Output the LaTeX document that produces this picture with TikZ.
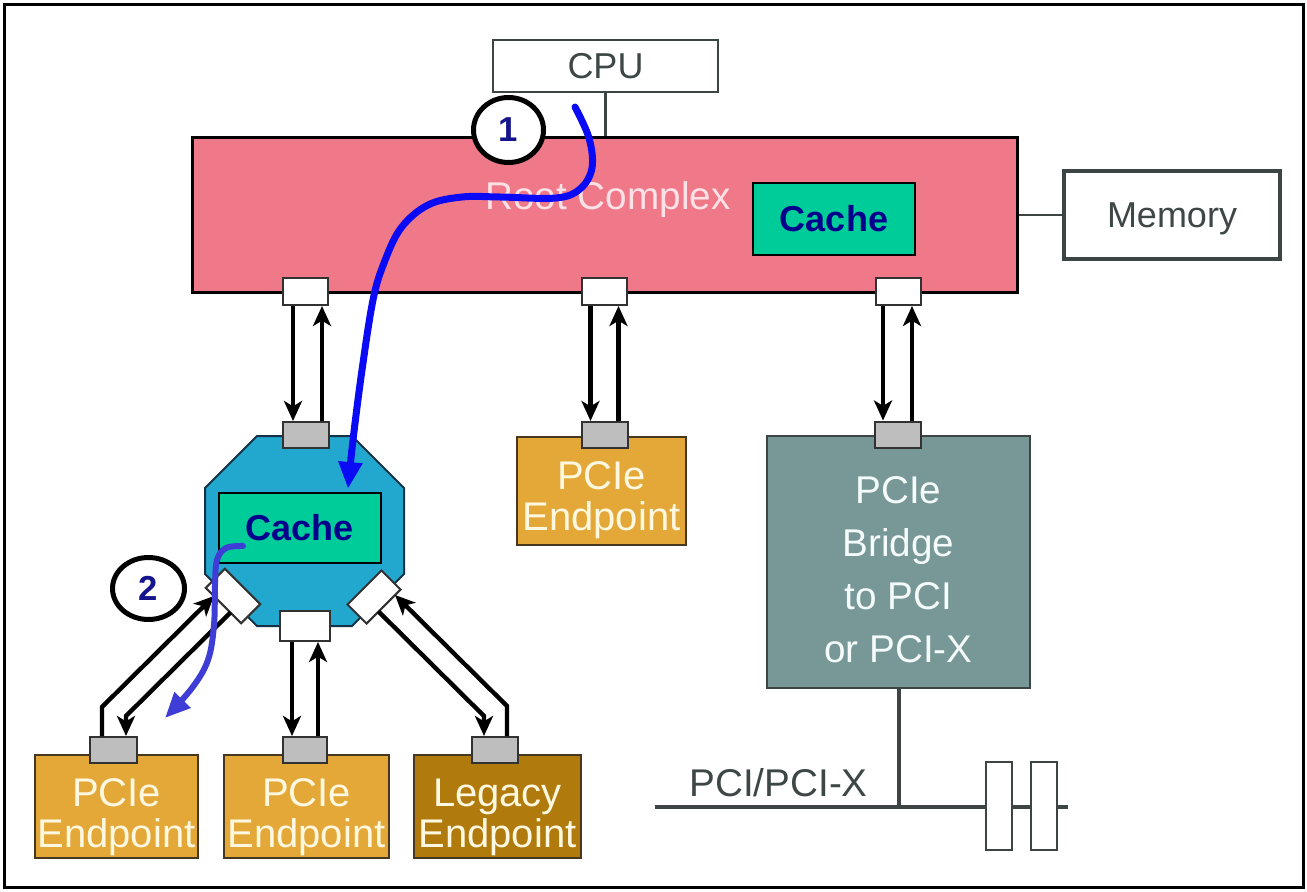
\documentclass[tikz,border=0pt]{standalone}
\usepackage{fontspec}
\setmainfont{Liberation Sans}
\usetikzlibrary{arrows.meta,calc,shapes.geometric}
\definecolor{rcpink}{RGB}{239,121,136}
\definecolor{rctxt}{RGB}{252,226,230}
\definecolor{cachegreen}{RGB}{0,204,153}
\definecolor{cacheblue}{RGB}{0,0,140}
\definecolor{swblue}{RGB}{34,168,206}
\definecolor{swline}{RGB}{20,50,70}
\definecolor{epgold}{RGB}{227,168,56}
\definecolor{eplegacy}{RGB}{176,122,12}
\definecolor{eptxt}{RGB}{255,248,224}
\definecolor{brfill}{RGB}{120,152,152}
\definecolor{brtxt}{RGB}{245,250,250}
\definecolor{portgray}{RGB}{190,190,190}
\definecolor{portline}{RGB}{50,50,50}
\definecolor{txtgray}{RGB}{62,70,70}
\definecolor{linegray}{RGB}{60,68,68}
\definecolor{flowA}{RGB}{10,10,245}
\definecolor{flowB}{RGB}{62,62,215}
\definecolor{numblue}{RGB}{20,20,140}
\definecolor{epline}{RGB}{70,55,30}
\begin{document}
\begin{tikzpicture}[x=0.75pt,y=-0.75pt,
  lbl/.style={font=\fontsize{27}{32}\selectfont, text=txtgray, text height=19.3pt, text depth=0pt, inner sep=0pt},
  whitebox/.style={draw=linegray, fill=white, inner sep=0pt},
  cachebox/.style={draw=black, line width=1.9pt, fill=cachegreen, minimum width=121.5pt, inner sep=0pt,
    font=\bfseries\fontsize{27}{32}\selectfont, text=cacheblue, text height=19.3pt, text depth=0pt},
  pbox/.style={draw=portline, line width=1.5pt, fill=white, minimum width=33.75pt, minimum height=20.25pt, inner sep=0pt},
  gbox/.style={pbox, fill=portgray},
  epbox/.style={draw=epline, line width=1.5pt, fill=epgold, minimum height=77.25pt, inner sep=0pt},
  eptext/.style={font=\fontsize{30}{30}\selectfont, text=eptxt, inner sep=0pt, anchor=base},
  gline/.style={draw=linegray},
  larr/.style={line width=3.3pt, -{Stealth[length=15pt,width=13.5pt,inset=4pt]}},
  num/.style={ellipse, draw=black, line width=3.75pt, fill=white, inner sep=0pt,
    font=\bfseries\fontsize{26}{30}\selectfont, text=numblue},
  flowone/.style={draw=flowA, line width=5.25pt, line cap=round, -{Triangle[length=20pt,width=17pt]}},
  flowtwo/.style={draw=flowB, line width=4.5pt, line cap=round, -{Triangle[length=19pt,width=16pt]}}
]
\useasboundingbox (0,0) rectangle (1307,892);
\draw[line width=2.25pt] (4,5) rectangle (1303,887);

% CPU, Root Complex, Memory
\node[whitebox, line width=1.9pt, minimum width=168.75pt, minimum height=39pt, lbl] (cpu) at (605.5,66) {CPU};
\node[draw=black, line width=2.25pt, fill=rcpink, minimum width=618.75pt, minimum height=116.25pt] (rc) at (604.5,215) {};
\node[font=\fontsize{29}{34}\selectfont, text=rctxt, anchor=base, inner sep=0pt] (rct) at (608,209) {Root Complex};
\node[cachebox, minimum height=54pt] (c1) at (834,219) {Cache};
\node[whitebox, line width=2.6pt, minimum width=162pt, minimum height=66pt, lbl] (mem) at (1172,215) {Memory};
\draw[gline, line width=1.9pt] (cpu.south) -- (cpu.south |- rc.north);
\draw[gline, line width=2.2pt] (rc.east) -- (mem.west);

% Root complex ports
\node[pbox] (rp1) at (305.5,291.5) {};
\node[pbox] (rp2) at (604.5,291.5) {};
\node[pbox] (rp3) at (898,291.5) {};

% Switch
\draw[draw=swline, line width=1.5pt, fill=swblue] (257,436) -- (352,436) -- (404,488) -- (404,574) -- (352,626) -- (257,626) -- (205,574) -- (205,488) -- cycle;
\node[cachebox, minimum height=52.5pt] (c2) at (300,528) {Cache};
\node[gbox, minimum width=34.5pt, minimum height=19.5pt] (sgt) at (305.5,435) {};
\node[pbox, minimum width=37.5pt, minimum height=22.5pt] (sp) at (305,626) {};
\node[pbox, minimum width=37.5pt, minimum height=20.25pt, rotate=-45] (lp) at (233,596) {};
\node[pbox, minimum width=36pt, minimum height=20.25pt, rotate=45] (rpd) at (374,597) {};

% Middle endpoint and bridge
\node[epbox, minimum width=126.75pt, minimum height=81pt] (epm) at (601.5,491) {};
\node[eptext] (epmt) at (601.5,530) {\begin{tabular}[b]{@{}c@{}}PCIe\\Endpoint\end{tabular}};
\node[gbox, minimum width=34.5pt, minimum height=19.5pt] (g0) at (604.5,435) {};
\node[draw=linegray, line width=1.5pt, fill=brfill, minimum width=197.25pt, minimum height=189pt] (br) at (898.5,562) {};
\node[font=\fontsize{29}{39.75}\selectfont, text=brtxt, inner sep=0pt, anchor=base] (brt) at (898.5,662) {\begin{tabular}[b]{@{}c@{}}PCIe\\Bridge\\to PCI\\or PCI-X\end{tabular}};
\node[gbox, minimum width=34.5pt, minimum height=19.5pt] (gb) at (898,434.5) {};

% Bottom endpoints
\node[epbox, minimum width=122.25pt] (ep1) at (116.5,806.5) {};
\node[eptext] (ep1t) at (116.5,847) {\begin{tabular}[b]{@{}c@{}}PCIe\\Endpoint\end{tabular}};
\node[epbox, minimum width=123.75pt] (ep2) at (306.5,806.5) {};
\node[eptext] (ep2t) at (306.5,847) {\begin{tabular}[b]{@{}c@{}}PCIe\\Endpoint\end{tabular}};
\node[epbox, fill=eplegacy, minimum width=125.25pt] (leg) at (497.5,806.5) {};
\node[eptext] (legt) at (497.5,847) {\begin{tabular}[b]{@{}c@{}}Legacy\\Endpoint\end{tabular}};
\node[gbox, minimum width=35.25pt, minimum height=19.5pt] (g1) at (113.5,750) {};
\node[gbox, minimum width=33pt, minimum height=19.5pt] (g2) at (305,750) {};
\node[gbox, minimum width=34.5pt, minimum height=19.5pt] (g3) at (495,750) {};

% PCI bus
\coordinate (busL) at (655,807);
\coordinate (busR) at (1068,807);
\draw[gline, line width=3pt] (busL) -- (busR);
\draw[gline, line width=3pt] (br.south) -- (br.south |- busL);
\node[whitebox, line width=1.5pt, minimum width=19.5pt, minimum height=66pt] (s1) at (999,806) {};
\node[whitebox, line width=1.5pt, minimum width=19.5pt, minimum height=66pt] (s2) at (1044,806) {};
\node[font=\fontsize{29}{34}\selectfont, text=txtgray, anchor=base, inner sep=0pt] (pcil) at (778.5,796) {PCI/PCI-X};

% Link arrows, root complex to devices
\draw[larr] ($(rp1.south)+(-12.5,0)$) -- ($(sgt.north)+(-12.5,0)$);
\draw[larr] ($(sgt.north)+(16.5,0)$) -- ($(rp1.south)+(16.5,0)$);
\draw[larr] ($(rp2.south)+(-14,0)$) -- ($(g0.north)+(-14,0)$);
\draw[larr] ($(g0.north)+(14,0)$) -- ($(rp2.south)+(14,0)$);
\draw[larr] ($(rp3.south)+(-15,0)$) -- ($(gb.north)+(-15,0)$);
\draw[larr] ($(gb.north)+(14,0)$) -- ($(rp3.south)+(14,0)$);

% Link arrows, switch to endpoints
\draw[larr] ($(sp.south)+(-13,0)$) -- ($(g2.north)+(-13,0)$);
\draw[larr] ($(g2.north)+(13,0)$) -- ($(sp.south)+(13,0)$);
\draw[larr, line join=miter] ($(g1.north)+(-11.5,0)$) -- ($(g1.north)+(-11.5,-29)$) -- ($(lp.center)+(-19,0)$);
\draw[larr, line join=miter] ($(lp.center)+(-2.5,16.5)$) -- ($(g1.north)+(12.5,-20)$) -- ($(g1.north)+(12.5,0)$);
\draw[larr, line join=miter] ($(g3.north)+(12,0)$) -- ($(g3.north)+(12,-30)$) -- ($(rpd.center)+(21,-2)$);
\draw[larr, line join=miter] ($(rpd.center)+(4.6,14.6)$) -- ($(g3.north)+(-11,-20)$) -- ($(g3.north)+(-11,0)$);

% Numbered markers
\node[num, minimum width=52.5pt, minimum height=48.75pt] (n1) at (508.5,130) {1};
\node[num, minimum width=54pt, minimum height=46.5pt] (n2) at (148.5,588.5) {2};

% Flow curves
\coordinate (b1s) at (575,107);
\coordinate (b1e) at ($(c2.north)+(48,-3)$);
\draw[flowone] plot[smooth, tension=0.6] coordinates {(b1s) (589,138) (592,168) (580,189) (556,198) (500,197) (462,197) (428,205) (401,228) (384,263) (373,300) (362,370) (353,440) (b1e)};
\coordinate (b2s) at (243,546);
\coordinate (b2e) at (165,718);
\draw[flowtwo] plot[smooth, tension=0.6] coordinates {(b2s) (226,548) (217,560) (215,585) (214,625) (208,660) (192,688) (b2e)};
\end{tikzpicture}
\end{document}
